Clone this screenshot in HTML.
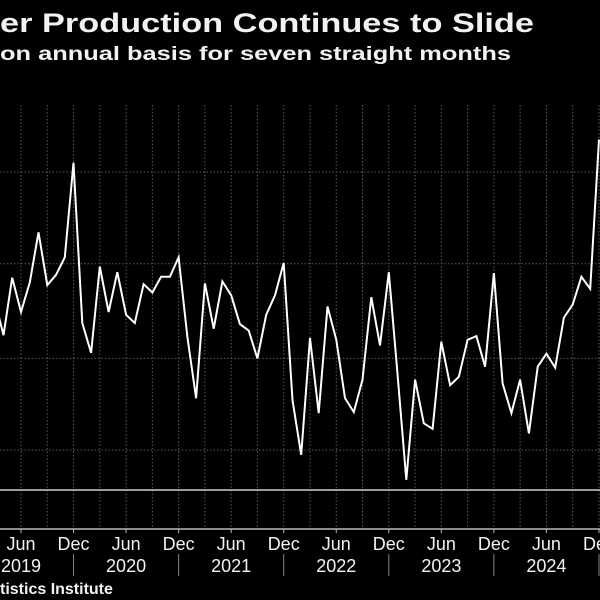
<!DOCTYPE html>
<html><head><meta charset="utf-8">
<style>
html,body{margin:0;padding:0;background:#000;}
svg{display:block;}
text{font-family:"Liberation Sans",sans-serif;fill:#f2f2f2;}
</style></head>
<body>
<svg id="chart" width="600" height="600" viewBox="0 0 600 600">
  <rect x="0" y="0" width="600" height="600" fill="#000"/>
  <text x="0" y="32" font-size="27" font-weight="bold" textLength="534" lengthAdjust="spacingAndGlyphs">er Production Continues to Slide</text>
  <text x="0" y="60" font-size="19" font-weight="bold" textLength="511" lengthAdjust="spacingAndGlyphs">on annual basis for seven straight months</text>
  <g id="grid"></g>
  <g id="axis"></g>
  <g id="series"></g>
  <text x="0" y="594" font-size="16" font-weight="bold">tistics Institute</text>
</svg>
<script>
const startMonth = "2019-03";
const values = [20.5,16.7,22.9,19.2,22.4,27.8,22.1,23.2,25.1,35.3,
18.0,14.8,24.1,19.2,23.5,18.9,18.0,22.2,21.3,23.0,23.0,25.1,
16.5,9.9,22.3,17.4,22.5,21.0,17.9,17.2,14.2,18.9,21.0,24.5,
9.7,3.8,16.4,8.3,19.8,16.2,9.9,8.4,11.9,20.8,15.6,23.5,
12.4,1.1,11.9,7.2,6.6,16.0,11.3,12.2,16.2,16.6,13.3,23.4,
11.5,8.3,11.9,6.1,13.3,14.7,13.2,18.6,20.0,23.0,21.7,37.8];
const gridValues = [4.3,14.2,24.4,34.3];
const monthTicks = ["Jun","Dec","Jun","Dec","Jun","Dec","Jun","Dec","Jun","Dec","Jun","Dec"];
const yearLabels = ["2019","2020","2021","2022","2023","2024"];

const NS="http://www.w3.org/2000/svg";
const PXM = 8.757;
function xOf(i){ return 21 + (i-3)*PXM; }
function yOf(v){ return 490 - v*9.27; }
const grid=document.getElementById('grid');
const axis=document.getElementById('axis');
const series=document.getElementById('series');
function mk(tag, attrs, parent){
  const e=document.createElementNS(NS,tag);
  for(const k in attrs) e.setAttribute(k,attrs[k]);
  parent.appendChild(e); return e;
}
for(let q=0;q<24;q++){
  const x=21+q*3*PXM;
  if(x>600) break;
  const l=mk('line',{x1:x,x2:x,y1:105,y2:529,stroke:'#5a5a5a','stroke-width':1,'stroke-dasharray':'1.5 2'},grid);
  
  
}
gridValues.forEach(v=>{
  const l=mk('line',{x1:0,x2:600,y1:yOf(v),y2:yOf(v),stroke:'#5a5a5a','stroke-width':1,'stroke-dasharray':'1.5 2'},grid);
  
  
});
const z=mk('line',{x1:0,x2:600,y1:490,y2:490,stroke:'#cfcfcf','stroke-width':1.5},grid);


const ax=mk('line',{x1:0,x2:600,y1:529,y2:529,stroke:'#bbbbbb','stroke-width':1.5},axis);


monthTicks.forEach((t,k)=>{
  const x=21+k*6*PXM;
  const tk=mk('line',{x1:x,x2:x,y1:529,y2:533,stroke:'#bbbbbb','stroke-width':1},axis);
  
  
  const tx=mk('text',{x:x,y:550,'font-size':18,'text-anchor':'middle',fill:'#e8e8e8'},axis);
  tx.textContent=t;
  
  
  if(t==="Dec"){
    const s=mk('line',{x1:x,x2:x,y1:554,y2:576,stroke:'#888','stroke-width':1},axis);
    
    
  }
});
yearLabels.forEach((y,k)=>{
  const x=21+k*12*PXM;
  const tx=mk('text',{x:x,y:572,'font-size':18,'text-anchor':'middle',fill:'#e8e8e8'},axis);
  tx.textContent=y;
  
  
});
const pts=values.map((v,i)=>xOf(i).toFixed(1)+','+yOf(v).toFixed(1)).join(' ');
const pl=mk('polyline',{points:pts,fill:'none',stroke:'#ffffff','stroke-width':2,'stroke-linejoin':'miter'},series);


</script>
</body></html>
